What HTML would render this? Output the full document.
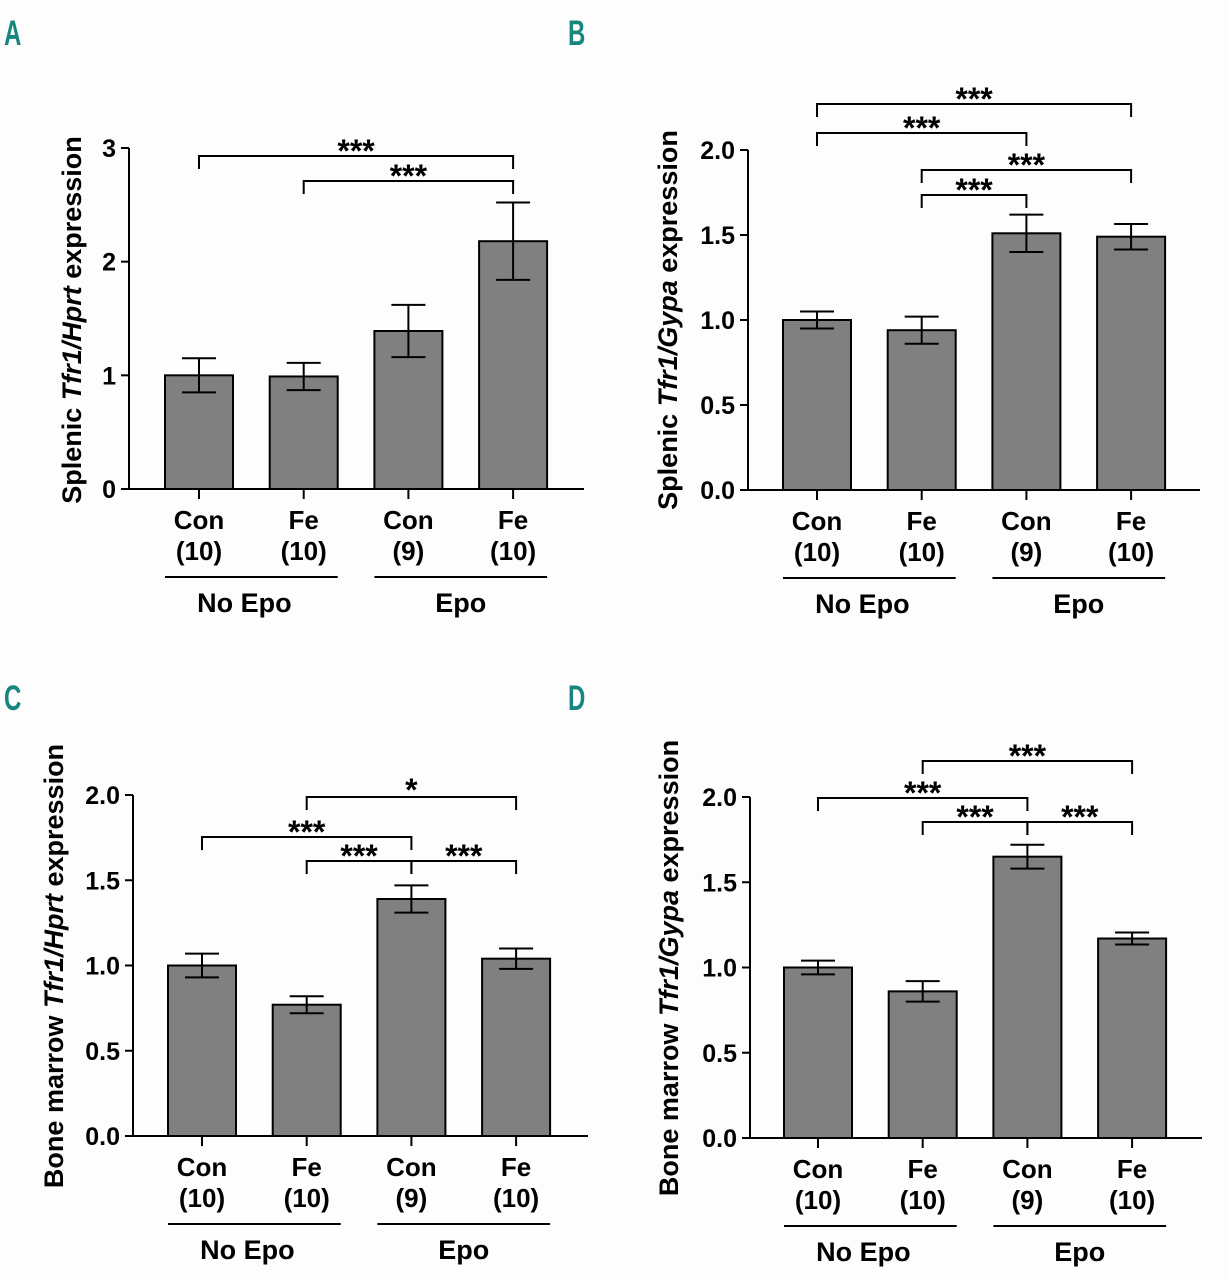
<!DOCTYPE html>
<html><head><meta charset="utf-8"><style>
html,body{margin:0;padding:0;background:#fff;}
svg{display:block;font-family:"Liberation Sans",sans-serif;}
</style></head><body>
<svg id="fig" width="1230" height="1280" viewBox="0 0 1230 1280">
<rect width="1230" height="1280" fill="#fdfdfd"/>
<text font-family="Liberation Sans, sans-serif" font-weight="bold" font-size="32" fill="#17867f" transform="translate(4,45) scale(0.75,1.1)">A</text>
<text font-family="Liberation Sans, sans-serif" font-weight="bold" font-size="32" fill="#17867f" transform="translate(568,45) scale(0.75,1.1)">B</text>
<text font-family="Liberation Sans, sans-serif" font-weight="bold" font-size="32" fill="#17867f" transform="translate(4,710) scale(0.75,1.1)">C</text>
<text font-family="Liberation Sans, sans-serif" font-weight="bold" font-size="32" fill="#17867f" transform="translate(568,710) scale(0.75,1.1)">D</text>
</svg>
<script>
const categories = ["Con","Fe","Con","Fe"];
const groupN = ["(10)","(10)","(9)","(10)"];
const groups = ["No Epo","Epo"];
const valuesA = [1.0,0.99,1.39,2.18];
const errA = [0.15,0.12,0.23,0.34];
const valuesB = [1.0,0.94,1.51,1.49];
const errB = [0.05,0.08,0.11,0.075];
const valuesC = [1.0,0.77,1.39,1.04];
const errC = [0.07,0.05,0.08,0.06];
const valuesD = [1.0,0.86,1.65,1.17];
const errD = [0.04,0.06,0.07,0.035];
const ticksA = ["0","1","2","3"];
const ticksB = ["0.0","0.5","1.0","1.5","2.0"];
const sigA = [[0,3,"***"],[1,3,"***"]];
const sigB = [[0,3,"***"],[0,2,"***"],[1,3,"***"],[1,2,"***"]];
const sigC = [[1,3,"*"],[0,2,"***"],[1,2,"***"],[2,3,"***"]];
const sigD = [[1,3,"***"],[0,2,"***"],[1,2,"***"],[2,3,"***"]];

const NS="http://www.w3.org/2000/svg";
const svg=document.getElementById('fig');
function mk(tag,attrs,parent,txt){const e=document.createElementNS(NS,tag);for(const k in attrs)e.setAttribute(k,attrs[k]);if(txt!==undefined)e.textContent=txt;(parent||svg).appendChild(e);return e;}

function panel(p){
  const g=mk('g',{});
  
  
  const y=v=>p.y0-(v/p.ymax)*(p.y0-p.ytop);
  const xc=i=>p.x1+i*p.step;
  const bw=68;
  p.values.forEach((v,i)=>{
    const r=mk('rect',{x:xc(i)-bw/2,y:y(v),width:bw,height:p.y0-y(v),fill:'#808080',stroke:'#000','stroke-width':2},g);
    
    
    const e=p.err[i];
    const eb=mk('path',{d:`M${xc(i)},${y(v+e)}V${y(v-e)}M${xc(i)-17},${y(v+e)}h34M${xc(i)-17},${y(v-e)}h34`,stroke:'#000','stroke-width':2,fill:'none'},g);
    
    
  });
  const ax=mk('path',{d:`M${p.ax},${p.ytop}V${p.y0}H${p.xend}`,stroke:'#000','stroke-width':2,fill:'none'},g);
  
  
  p.ticks.forEach((t,k)=>{
    const v=k*p.ymax/(p.ticks.length-1);
    mk('path',{d:`M${p.ax-8},${y(v)}H${p.ax}`,stroke:'#000','stroke-width':2},g);
    const tl=mk('text',{x:p.ax-13,y:y(v)+9,'text-anchor':'end','font-size':25,'font-weight':'bold'},g,t);
    
    
  });
  categories.forEach((c,i)=>{
    mk('path',{d:`M${xc(i)},${p.y0}V${p.y0+10}`,stroke:'#000','stroke-width':2},g);
    const t1=mk('text',{x:xc(i),y:p.y0+40,'text-anchor':'middle','font-size':26,'font-weight':'bold'},g,c);
    
    
    const t2=mk('text',{x:xc(i),y:p.y0+71,'text-anchor':'middle','font-size':26,'font-weight':'bold'},g,groupN[i]);
    
    
  });
  groups.forEach((gn,j)=>{
    const a=xc(2*j)-34,b=xc(2*j+1)+34;
    mk('path',{d:`M${a},${p.y0+88}H${b}`,stroke:'#000','stroke-width':2},g);
    const gt=mk('text',{x:(a+b)/2-(j===0?7:0),y:p.y0+123,'text-anchor':'middle','font-size':27,'font-weight':'bold'},g,gn);
    
    
  });
  const yt=mk('text',{transform:`translate(${p.tx},${p.ty}) rotate(-90)`,'text-anchor':'middle','font-size':27,'font-weight':'bold'},g);
  
  
  mk('tspan',{},yt,p.title[0]);
  mk('tspan',{'font-style':'italic'},yt,p.title[1]);
  mk('tspan',{},yt,p.title[2]);
  p.sig.forEach((s,k)=>{
    const by=p.by[k],a=xc(s[0]),b=xc(s[1]);
    const br=mk('path',{d:`M${a},${by+13}V${by}H${b}V${by+13}`,stroke:'#000','stroke-width':2,fill:'none'},g);
    
    
    const st=mk('text',{x:(a+b)/2,y:by+(s[2]==='*'?4:6),'text-anchor':'middle','font-size':32,'font-weight':'bold'},g,s[2]);
    
    
  });
}
panel({id:'a',values:valuesA,err:errA,ticks:ticksA,ymax:3,ax:129,y0:489,ytop:148,x1:199,step:104.7,xend:584,tx:81,ty:320,title:["Splenic ","Tfr1/Hprt"," expression"],sig:sigA,by:[156,181]});
panel({id:'b',values:valuesB,err:errB,ticks:ticksB,ymax:2,ax:748,y0:490,ytop:150,x1:817,step:104.7,xend:1200,tx:677,ty:320,title:["Splenic ","Tfr1/Gypa"," expression"],sig:sigB,by:[104,133,170,195]});
panel({id:'c',values:valuesC,err:errC,ticks:ticksB,ymax:2,ax:133,y0:1136,ytop:795,x1:202,step:104.7,xend:588,tx:63,ty:966,title:["Bone marrow ","Tfr1/Hprt"," expression"],sig:sigC,by:[797,837,861,861]});
panel({id:'d',values:valuesD,err:errD,ticks:ticksB,ymax:2,ax:750,y0:1138,ytop:797,x1:818,step:104.7,xend:1202,tx:678,ty:968,title:["Bone marrow ","Tfr1/Gypa"," expression"],sig:sigD,by:[761,798,822,822]});
</script>
</body></html>
